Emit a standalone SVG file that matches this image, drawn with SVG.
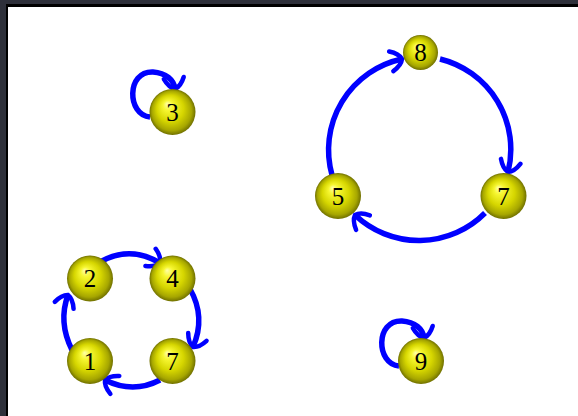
<svg xmlns="http://www.w3.org/2000/svg" width="578" height="416" viewBox="0 0 578 416">
<defs>
<radialGradient id="ball" cx="0.5" cy="0.5" r="0.5" fx="0.38" fy="0.32">
<stop offset="0" stop-color="#ffffa8"/>
<stop offset="0.22" stop-color="#f6f630"/>
<stop offset="0.58" stop-color="#d6d600"/>
<stop offset="0.86" stop-color="#a6a600"/>
<stop offset="1" stop-color="#707000"/>
</radialGradient>
<marker id="arr" markerUnits="userSpaceOnUse" markerWidth="30" markerHeight="30" refX="15" refY="15" orient="auto" viewBox="0 0 30 30">
<path d="M4,5 Q13,9 15,15 Q13,21 4,25" fill="none" stroke="#0000ff" stroke-width="4.5" stroke-linecap="round"/>
</marker>
<style>
.e{fill:none;stroke:#0000ff;stroke-width:5.5;marker-end:url(#arr)}
.b{fill:url(#ball)}
.t{font-family:"Liberation Serif","DejaVu Serif",serif;font-size:25px;text-anchor:middle;fill:#000}
</style>
</defs>
<rect x="0" y="0" width="578" height="416" fill="#2e303a"/>
<rect x="6" y="4" width="572" height="412" fill="#000"/>
<rect x="8" y="7" width="570" height="409" fill="#fff"/>
<g id="connectors">
<path class="e" d="M150,117 C127,115 126,71 153,72 C166,73 174,80 175,89"/>
<path class="e" d="M399,366 C376,364 375,320 402,321 C415,322 423,329 424,338"/>
<path class="e" d="M332,175 A93,93 0 0 1 402,59"/>
<path class="e" d="M440,59 A93,93 0 0 1 508,172"/>
<path class="e" d="M485,213 A93,93 0 0 1 355,215"/>
<path class="e" d="M100,262 Q130,245 160,263"/>
<path class="e" d="M190,289 Q206,317 193,347"/>
<path class="e" d="M160,380 Q133,394 105,380"/>
<path class="e" d="M72,350 Q58,322 68,295"/>
</g>
<g id="n3"><circle class="b" cx="172.5" cy="112" r="23"/><text class="t" x="172.5" y="120.5">3</text></g>
<g id="n8"><circle class="b" cx="420.5" cy="52.5" r="17.5"/><text class="t" x="420.5" y="61">8</text></g>
<g id="n5"><circle class="b" cx="338" cy="196" r="23"/><text class="t" x="338" y="204.5">5</text></g>
<g id="n7a"><circle class="b" cx="503.5" cy="196" r="23"/><text class="t" x="503.5" y="204.5">7</text></g>
<g id="n2"><circle class="b" cx="90" cy="278.5" r="23"/><text class="t" x="90" y="287">2</text></g>
<g id="n4"><circle class="b" cx="172.5" cy="278.5" r="23"/><text class="t" x="172.5" y="287">4</text></g>
<g id="n1"><circle class="b" cx="90" cy="361" r="23"/><text class="t" x="90" y="369.5">1</text></g>
<g id="n7b"><circle class="b" cx="172.5" cy="361" r="23"/><text class="t" x="172.5" y="369.5">7</text></g>
<g id="n9"><circle class="b" cx="421" cy="361" r="23"/><text class="t" x="421" y="369.5">9</text></g>
</svg>
